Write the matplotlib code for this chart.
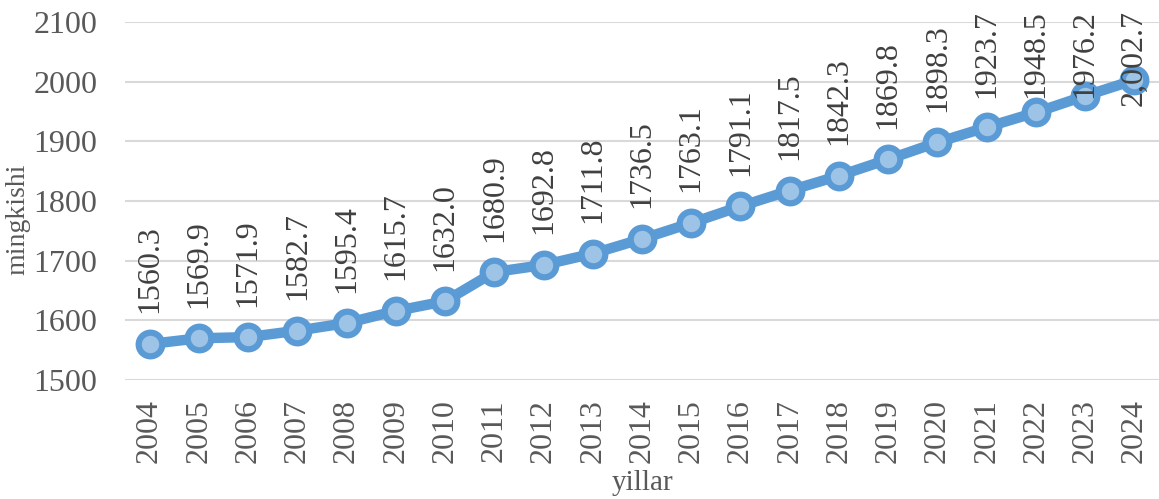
import matplotlib
matplotlib.use('Agg')
import matplotlib.pyplot as plt

years = [str(y) for y in range(2004, 2025)]
values = [1560.3, 1569.9, 1571.9, 1582.7, 1595.4, 1615.7, 1632.0, 1680.9, 1692.8, 1711.8,
          1736.5, 1763.1, 1791.1, 1817.5, 1842.3, 1869.8, 1898.3, 1923.7, 1948.5, 1976.2, 2002.7]
labels = ['1560.3', '1569.9', '1571.9', '1582.7', '1595.4', '1615.7', '1632.0', '1680.9', '1692.8',
          '1711.8', '1736.5', '1763.1', '1791.1', '1817.5', '1842.3', '1869.8', '1898.3', '1923.7',
          '1948.5', '1976.2', '2,002.7']
y_ticks = [1500, 1600, 1700, 1800, 1900, 2000, 2100]

plt.rcParams['font.family'] = ['Liberation Serif', 'DejaVu Serif']

W, H, dpi = 1159, 499, 100
fig = plt.figure(figsize=(W / dpi, H / dpi), dpi=dpi)
ax = fig.add_axes([125 / W, 1 - 380 / H, 1 - 125 / W, (380 - 22) / H])

x = list(range(len(years)))
ax.plot(x, values, color='#5B9BD5', linewidth=7.5, marker='o', markersize=17,
        markerfacecolor='#9DC3E6', markeredgecolor='#5B9BD5', markeredgewidth=4.5,
        solid_capstyle='round', zorder=3)

ax.set_xlim(-0.5, len(years) - 0.5)
ax.set_ylim(1500, 2100)
ax.set_yticks(y_ticks)
ax.set_xticks(x)
ax.set_xticklabels(years, rotation=90)
ax.tick_params(axis='both', length=0, labelsize=23, labelcolor='#595959')
ax.tick_params(axis='x', pad=14)
ax.tick_params(axis='y', pad=20)
ax.grid(axis='y', color='#D9D9D9', linewidth=1.5)
ax.set_axisbelow(True)
for s in ax.spines.values():
    s.set_visible(False)

texts = []
for xi, v, lab in zip(x, values, labels):
    t = ax.annotate(lab, (xi, v), xytext=(0, 22), textcoords='offset points',
                    rotation=90, ha='center', va='bottom', fontsize=23,
                    color='#404040', annotation_clip=False, zorder=4)
    texts.append(t)

fig.text(18 / W, 1 - 219 / H, 'mingkishi', rotation=90, ha='center', va='center',
         fontsize=20, color='#595959')
fig.text(642 / W, 1 - 483 / H, 'yillar', ha='center', va='center',
         fontsize=21, color='#595959')

# keep labels inside the top of the figure, like Excel does
fig.canvas.draw()
r = fig.canvas.get_renderer()
for t in texts:
    bb = t.get_window_extent(r)
    limit = H - 10
    if bb.y1 > limit:
        dx, dy = t.xyann
        t.xyann = (dx, dy - (bb.y1 - limit) * 72 / dpi)

fig.savefig('out.png', dpi=dpi)
